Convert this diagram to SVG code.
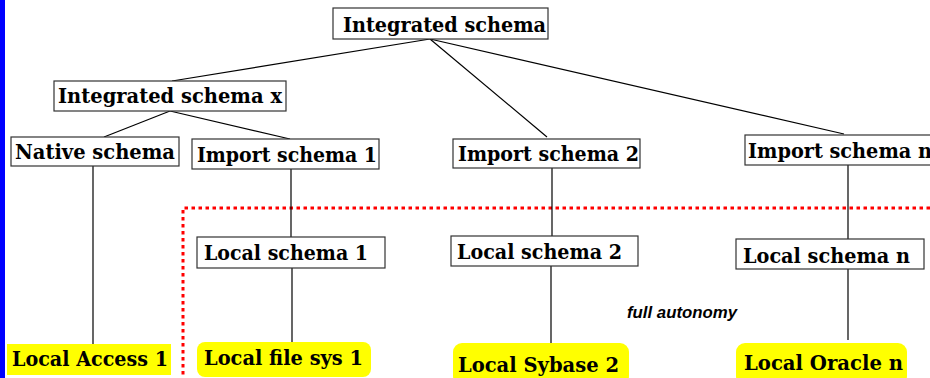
<svg xmlns="http://www.w3.org/2000/svg" width="930" height="378" viewBox="0 0 930 378">
<style>
.box{fill:#fff;stroke:#333;stroke-width:1.2}
.db{fill:#ffff00;stroke:none}
.t{font-family:"DejaVu Serif","Liberation Serif",serif;font-weight:bold;font-size:20px;fill:#000}
.c{stroke:#000;stroke-width:1.2;fill:none}
.red{stroke:#ff0000;stroke-width:3;stroke-dasharray:3.5 3.5;fill:none}
.note{font-family:"Liberation Sans",Arial,sans-serif;font-weight:bold;font-style:italic;font-size:16px;fill:#000}
</style>
<rect x="0" y="0" width="930" height="378" fill="#fff"/>
<rect x="0" y="0" width="5" height="378" fill="#0000ff"/>
<path class="red" d="M930,208 H183 V378"/>
<g id="connectors">
<line class="c" x1="430" y1="39" x2="172" y2="81"/>
<line class="c" x1="430" y1="39" x2="547" y2="137"/>
<line class="c" x1="430" y1="39" x2="844" y2="134"/>
<line class="c" x1="170" y1="111" x2="104" y2="137"/>
<line class="c" x1="170" y1="111" x2="290" y2="139"/>
<line class="c" x1="93" y1="166" x2="93" y2="345"/>
<line class="c" x1="291" y1="169" x2="291" y2="237"/>
<line class="c" x1="292" y1="268" x2="292" y2="342"/>
<line class="c" x1="552" y1="168" x2="552" y2="236"/>
<line class="c" x1="551" y1="266" x2="551" y2="343"/>
<line class="c" x1="848" y1="165" x2="848" y2="239"/>
<line class="c" x1="848" y1="269" x2="848" y2="340"/>
</g>
<g id="integrated-schema"><rect class="box" x="333" y="8" width="215" height="31"/><text class="t" x="343" y="32" textLength="203" lengthAdjust="spacingAndGlyphs">Integrated schema</text></g>
<g id="integrated-schema-x"><rect class="box" x="54" y="81" width="232" height="30"/><text class="t" x="58" y="103" textLength="224" lengthAdjust="spacingAndGlyphs">Integrated schema x</text></g>
<g id="native-schema"><rect class="box" x="11" y="137" width="168" height="29"/><text class="t" x="15" y="159" textLength="160" lengthAdjust="spacingAndGlyphs">Native schema</text></g>
<g id="import-schema-1"><rect class="box" x="192" y="139" width="187" height="30"/><text class="t" x="197" y="162" textLength="180" lengthAdjust="spacingAndGlyphs">Import schema 1</text></g>
<g id="import-schema-2"><rect class="box" x="453" y="139" width="187" height="29"/><text class="t" x="458" y="161" textLength="181" lengthAdjust="spacingAndGlyphs">Import schema 2</text></g>
<g id="import-schema-n"><rect class="box" x="745" y="135" width="200" height="30"/><text class="t" x="748" y="158" textLength="184" lengthAdjust="spacingAndGlyphs">Import schema n</text></g>
<g id="local-schema-1"><rect class="box" x="197" y="237" width="188" height="31"/><text class="t" x="204" y="260" textLength="164" lengthAdjust="spacingAndGlyphs">Local schema 1</text></g>
<g id="local-schema-2"><rect class="box" x="451" y="236" width="187" height="30"/><text class="t" x="457" y="259" textLength="165" lengthAdjust="spacingAndGlyphs">Local schema 2</text></g>
<g id="local-schema-n"><rect class="box" x="736" y="239" width="188" height="30"/><text class="t" x="743" y="263" textLength="167" lengthAdjust="spacingAndGlyphs">Local schema n</text></g>
<g id="local-access-1"><rect class="db" x="7" y="344" width="164" height="31"/><text class="t" x="12" y="366" textLength="156" lengthAdjust="spacingAndGlyphs">Local Access 1</text></g>
<g id="local-file-sys-1"><rect class="db" x="197" y="342" width="174" height="35" rx="8"/><text class="t" x="204" y="365" textLength="159" lengthAdjust="spacingAndGlyphs">Local file sys 1</text></g>
<g id="local-sybase-2"><rect class="db" x="453" y="343" width="176" height="42" rx="9"/><text class="t" x="458" y="372" textLength="161" lengthAdjust="spacingAndGlyphs">Local Sybase 2</text></g>
<g id="local-oracle-n"><rect class="db" x="736" y="343" width="171" height="42" rx="9"/><text class="t" x="744" y="370" textLength="159" lengthAdjust="spacingAndGlyphs">Local Oracle n</text></g>
<text class="note" x="627" y="318" textLength="110" lengthAdjust="spacingAndGlyphs">full autonomy</text>
</svg>
